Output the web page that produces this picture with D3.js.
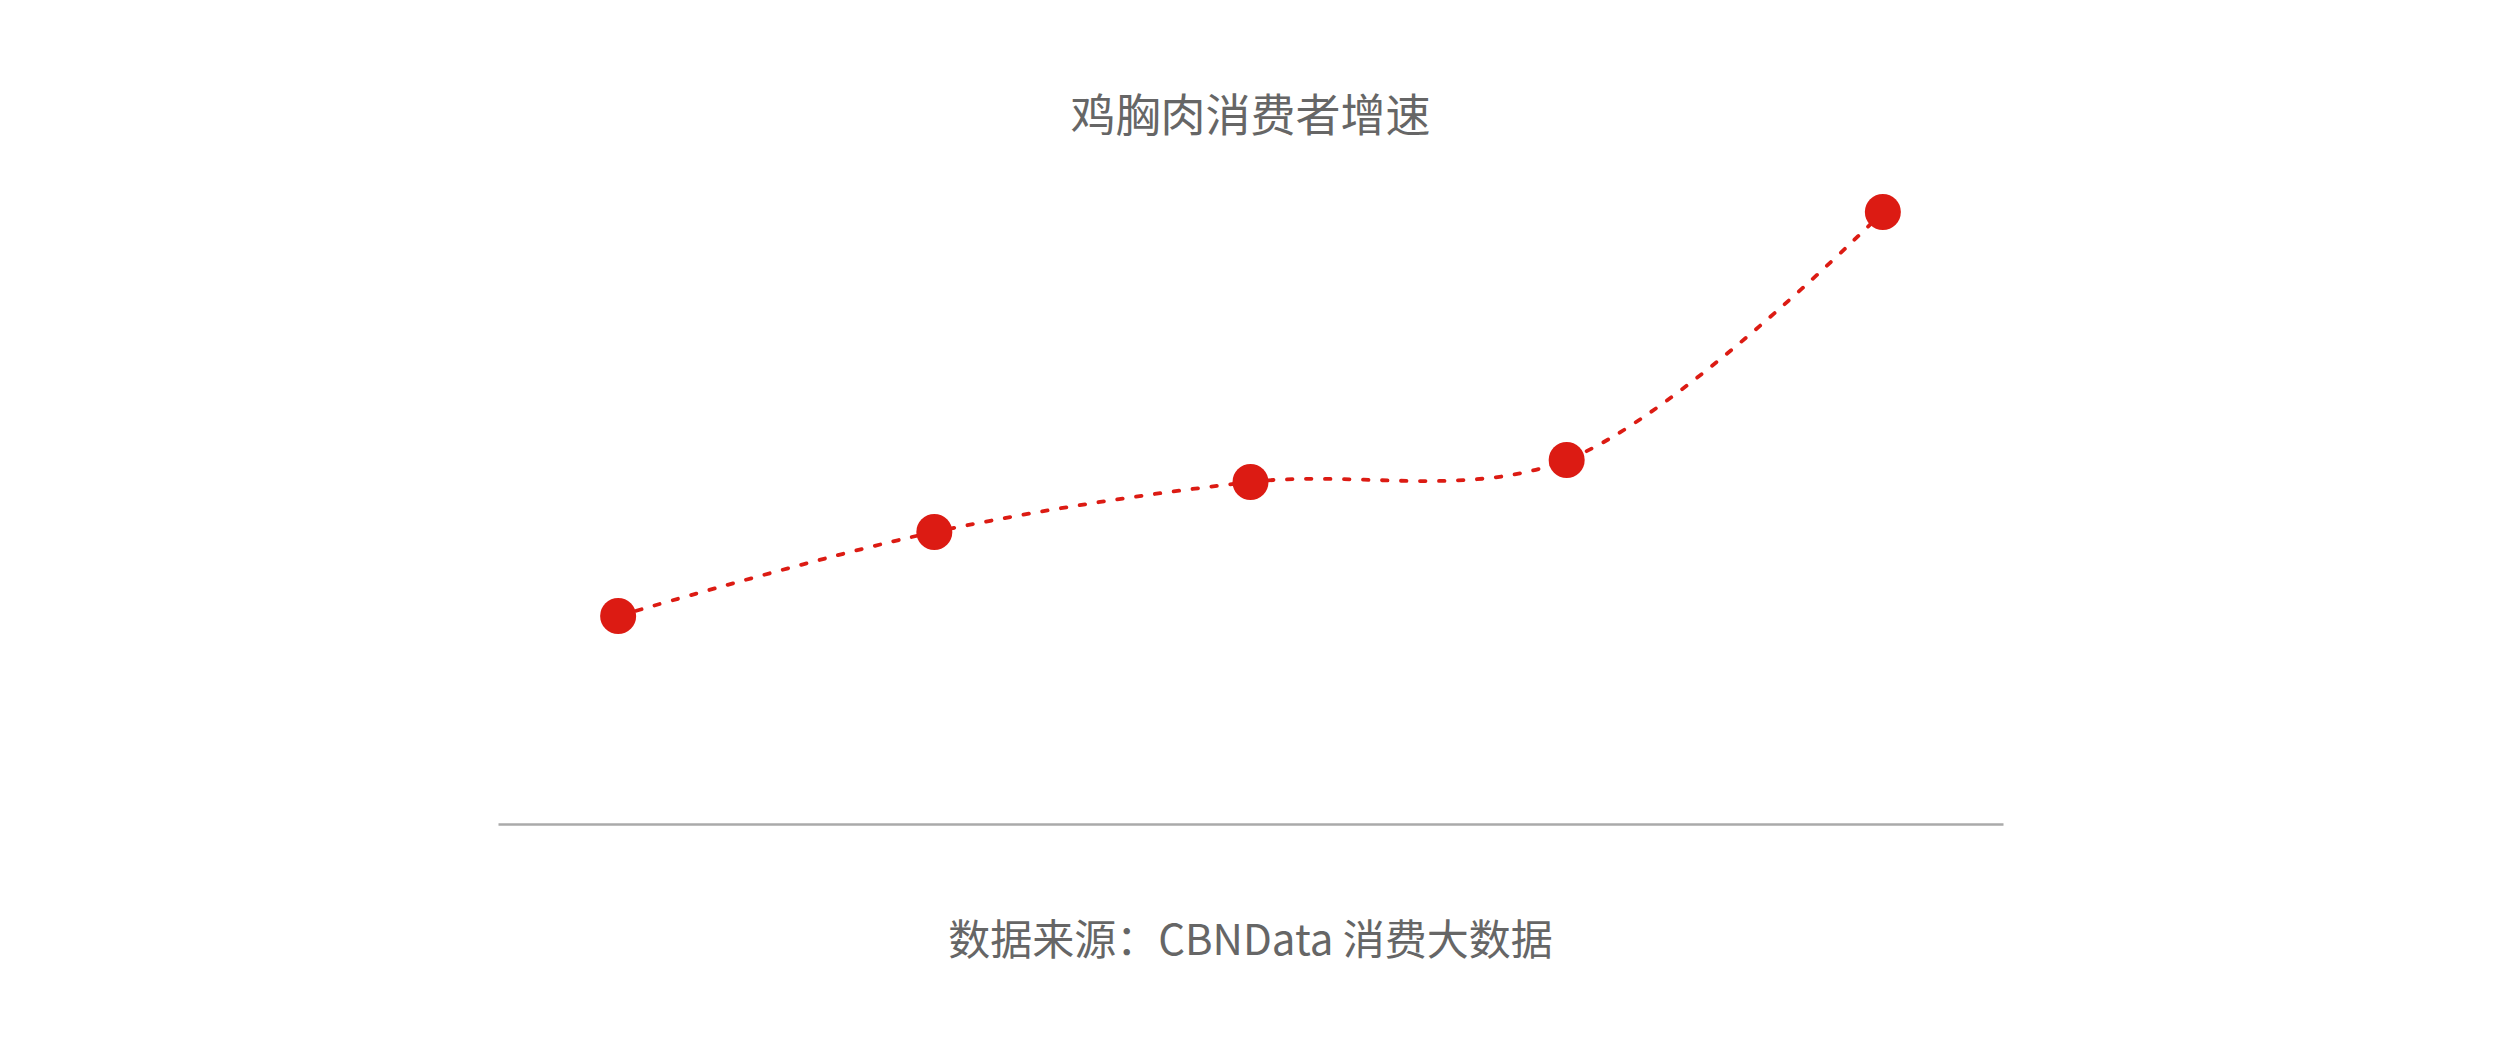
<!DOCTYPE html>
<html><head><meta charset="utf-8">
<script src="https://cdn.jsdelivr.net/npm/d3@7/dist/d3.min.js"></script>
<style>html,body{margin:0;padding:0;background:#fff;}</style>
</head><body>
<svg id="c" width="2501" height="1037"></svg>
<script>
const categories = ["1", "2", "3", "4", "5"];
const values = [104, 146, 171, 182, 306];
const title = "鸡胸肉消费者增速";
const source = "数据来源：CBNData 消费大数据";

const W = 2501, H = 1037;
const margin = {left: 498, right: 498, top: 212, bottom: 213};
const svg = d3.select("#c");
const red = "#dc1b13";
const textColor = "#666666";

const x = d3.scalePoint().domain(categories).range([margin.left, W - margin.right]).padding(0.38);
const y = d3.scaleLinear().domain([0, d3.max(values)]).range([H - margin.bottom, margin.top]);

// x axis line
const xAxis = d3.axisBottom(x).tickSize(0).tickFormat("");
const gx = svg.append("g").attr("transform", `translate(0,${y(0)})`).call(xAxis);
gx.select(".domain").attr("stroke", "#aaaaaa").attr("stroke-width", 2.5);

const data = categories.map((c, i) => ({c, v: values[i]}));
const line = d3.line().x(d => x(d.c)).y(d => y(d.v)).curve(d3.curveCatmullRom.alpha(0.5));

svg.append("path").datum(data).attr("d", line)
  .attr("fill", "none").attr("stroke", red).attr("stroke-width", 3.8)
  .attr("stroke-dasharray", "5.5 13.5").attr("stroke-linecap", "round");

svg.selectAll("circle.pt").data(data).enter().append("circle")
  .attr("class", "pt").attr("cx", d => x(d.c)).attr("cy", d => y(d.v)).attr("r", 18)
  .attr("fill", red);

svg.append("text").attr("x", W / 2).attr("y", 112).attr("text-anchor", "middle")
  .attr("dominant-baseline", "central")
  .attr("font-family", "'Noto Sans CJK SC', 'Noto Sans', sans-serif")
  .attr("font-size", 45).attr("fill", textColor).text(title);

svg.append("text").attr("x", W / 2).attr("y", 936).attr("text-anchor", "middle")
  .attr("dominant-baseline", "central")
  .attr("font-family", "'Noto Sans CJK SC', 'Noto Sans', sans-serif")
  .attr("font-size", 42).attr("fill", textColor).text(source);
</script>
</body></html>
